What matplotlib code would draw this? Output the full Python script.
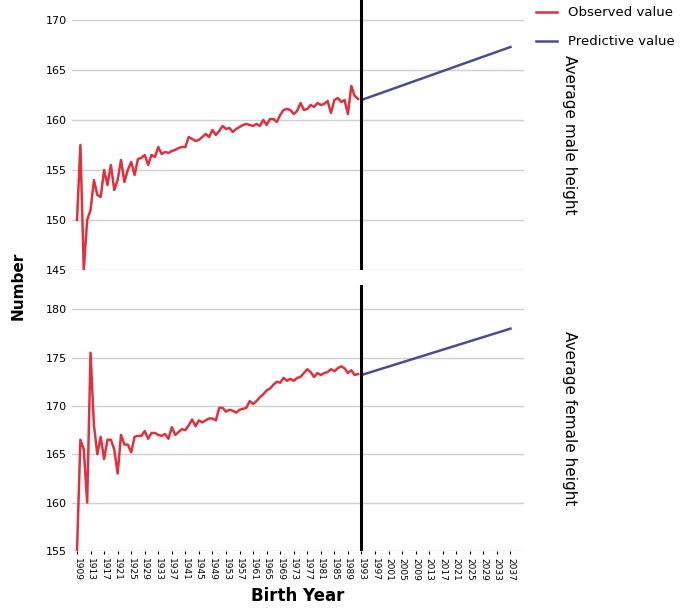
import matplotlib.pyplot as plt
import numpy as np

years_obs = np.arange(1909, 1993)
male = [150, 157.5, 145, 150, 151, 154, 152.5, 152.3, 155, 153.5, 155.5, 153, 154, 156, 153.8,
        155, 155.8, 154.5, 156.1, 156.2, 156.5, 155.5, 156.5, 156.3, 157.3, 156.6, 156.8, 156.7,
        156.9, 157.0, 157.2, 157.3, 157.3, 158.3, 158.1, 157.9, 158, 158.3, 158.6, 158.3, 159,
        158.5, 158.9, 159.4, 159.1, 159.2, 158.8, 159.1, 159.3, 159.5, 159.6, 159.5, 159.4, 159.6,
        159.4, 160, 159.5, 160.1, 160.1, 159.8, 160.5, 161, 161.1, 161, 160.6, 160.9, 161.7, 161.0,
        161.1, 161.5, 161.3, 161.7, 161.5, 161.6, 161.9, 160.7, 162.0, 162.2, 161.8, 162.0, 160.6,
        163.4, 162.4, 162.1]
female = [155, 166.5, 165.5, 160, 175.5, 168, 165, 166.8, 164.5, 166.5, 166.5, 165.5, 163, 167,
          166, 166, 165.2, 166.8, 166.9, 166.9, 167.4, 166.6, 167.2, 167.2, 167.0, 166.9, 167.1,
          166.6, 167.8, 167, 167.3, 167.6, 167.5, 168.0, 168.6, 167.9, 168.5, 168.3, 168.5, 168.7,
          168.7, 168.5, 169.8, 169.8, 169.4, 169.6, 169.5, 169.3, 169.6, 169.7, 169.8, 170.5, 170.2,
          170.5, 170.9, 171.2, 171.6, 171.8, 172.2, 172.5, 172.4, 172.9, 172.6, 172.8, 172.6, 172.9,
          173.0, 173.4, 173.8, 173.5, 173.0, 173.4, 173.2, 173.4, 173.5, 173.8, 173.6, 173.9, 174.1,
          173.9, 173.4, 173.7, 173.2, 173.3]
years_pred = [1993, 2037]
male_pred = [162.0, 167.3]
female_pred = [173.2, 178.0]
xticks = np.arange(1909, 2038, 4)

fig = plt.figure(figsize=(6.85, 6.08), dpi=100)
ax1 = fig.add_axes([0.105, 0.556, 0.66, 0.444])
ax2 = fig.add_axes([0.105, 0.094, 0.66, 0.437])

panels = [(ax1, male, male_pred, (145, 172), [145, 150, 155, 160, 165, 170], 'Average male height'),
          (ax2, female, female_pred, (155, 182.5), [155, 160, 165, 170, 175, 180], 'Average female height')]
for ax, obs, pred, ylim, yt, lab in panels:
    ax.plot(years_obs, obs, color='#e0313f', linewidth=1.8, label='Observed value')
    ax.plot(years_pred, pred, color='#4a4f8c', linewidth=1.8, label='Predictive value')
    ax.axvline(1993, color='black', linewidth=2.2)
    ax.set_xlim(1907.5, 2041)
    ax.set_ylim(*ylim)
    ax.set_yticks(yt)
    ax.tick_params(axis='y', labelsize=8, length=0)
    ax.yaxis.grid(True, color='#d0d0d0', linewidth=1)
    ax.set_axisbelow(True)
    for s in ax.spines.values():
        s.set_visible(False)
    ax.text(1.1, 0.5, lab, transform=ax.transAxes, rotation=-90, va='center', ha='center', fontsize=11)

ax1.set_xticks([])
ax2.set_xticks(xticks)
ax2.set_xticklabels([str(y) for y in xticks], rotation=-90, fontsize=6.5)
ax2.tick_params(axis='x', length=2)
ax2.set_xlabel('Birth Year', fontsize=12, fontweight='bold')
fig.text(0.015, 0.53, 'Number', rotation=90, va='center', fontsize=11, fontweight='bold')
ax1.legend(loc='upper left', bbox_to_anchor=(1.0, 1.02), frameon=False, fontsize=9.5,
           handlelength=1.6, labelspacing=1.2)

fig.savefig('out.png')
